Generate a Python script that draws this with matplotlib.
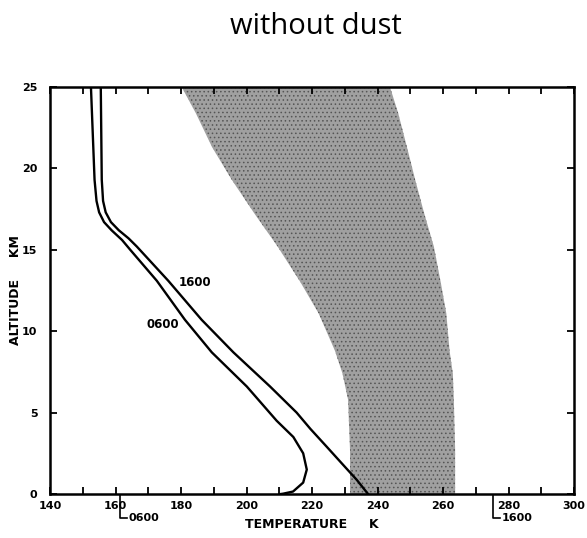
import matplotlib.pyplot as plt
import numpy as np

plt.rcParams['hatch.linewidth'] = 0.6

# 0600 profile (temperature K, altitude km)
t0600 = [210.5, 211.2, 214.2, 217.3, 218.4, 217.3, 214.3, 209.2, 200.1, 189.4, 181.2,
         172.6, 164.5, 162.0, 158.8, 156.5, 155.0, 154.2, 153.6, 152.5]
z0600 = [0.0, 0.02, 0.15, 0.7, 1.5, 2.5, 3.5, 4.5, 6.6, 8.7, 10.7,
         13.1, 15.0, 15.6, 16.2, 16.7, 17.3, 18.0, 19.3, 25.0]

# 1600 profile
t1600 = [237.1, 233.7, 229.0, 224.5, 219.5, 215.3, 207.2, 196.0, 186.3, 176.1,
         166.5, 164.0, 161.0, 158.6, 157.0, 156.2, 155.8, 155.5]
z1600 = [0.0, 0.86, 1.9, 2.9, 4.0, 5.0, 6.6, 8.7, 10.7, 13.1,
         15.2, 15.7, 16.2, 16.7, 17.3, 18.0, 19.3, 25.0]

# shaded band (edges)
band_z = [0, 2.7, 5.8, 7.4, 8.8, 11.1, 13.0, 15.2, 17.2, 19.3, 21.3, 23.4, 25]
band_lo = [231.6, 231.6, 231.0, 229.3, 227.0, 222.0, 216.5, 209.5, 202.5, 195.5, 189.5, 184.5, 180.2]
band_hi = [263.7, 263.7, 263.3, 263.0, 262.0, 261.0, 259.3, 257.2, 254.3, 251.5, 249.0, 246.3, 243.8]

xticks = [140, 160, 180, 200, 220, 240, 260, 280, 300]
yticks = [0, 5, 10, 15, 20, 25]

fig = plt.figure(figsize=(5.87, 5.38), dpi=100)
ax = fig.add_axes([0.0852, 0.0818, 0.8927, 0.7565])

ax.fill_betweenx(band_z, band_lo, band_hi, facecolor='#a0a0a0', edgecolor='#555555',
                 hatch='....', linewidth=0, zorder=1)
ax.plot(t0600, z0600, color='black', lw=1.7, zorder=3)
ax.plot(t1600, z1600, color='black', lw=1.7, zorder=3)

fnt = dict(family='DejaVu Sans', weight='bold', size=8)
ax.text(184.3, 13.0, '1600', ha='center', va='center', family='DejaVu Sans',
        weight='bold', size=8.5)
ax.text(174.5, 10.4, '0600', ha='center', va='center', family='DejaVu Sans',
        weight='bold', size=8.5)

ax.set_xlim(140, 300)
ax.set_ylim(0, 25)
ax.set_xticks(xticks)
ax.set_xticks(np.arange(140, 301, 10), minor=True)
ax.set_yticks(yticks)
ax.set_xticklabels([str(v) for v in xticks], **fnt)
ax.set_yticklabels([str(v) for v in yticks], **fnt)
ax.tick_params(direction='in', top=True, right=True, length=5, width=1.3, pad=5)
ax.tick_params(which='minor', direction='in', top=True, length=5, width=1.3)
ax.tick_params(axis='y', pad=9)
for s in ax.spines.values():
    s.set_linewidth(1.8)

ax.set_xlabel('TEMPERATURE     K', family='DejaVu Sans', weight='bold', size=9, labelpad=5)
ax.set_ylabel('ALTITUDE     KM', family='DejaVu Sans', weight='bold', size=9, labelpad=0)

# surface-temperature brackets below axis
for tv, lab in [(161.4, '0600'), (275.3, '1600')]:
    ax.plot([tv, tv, tv + 2.2], [-0.05, -1.45, -1.45], color='black', lw=1.2,
            clip_on=False)
    ax.text(tv + 2.6, -1.45, lab, ha='left', va='center', **fnt)

fig.text(0.538, 0.95, 'without dust', ha='center', va='center',
         family='Open Sans', size=21)

plt.savefig('out.png', dpi=100)
